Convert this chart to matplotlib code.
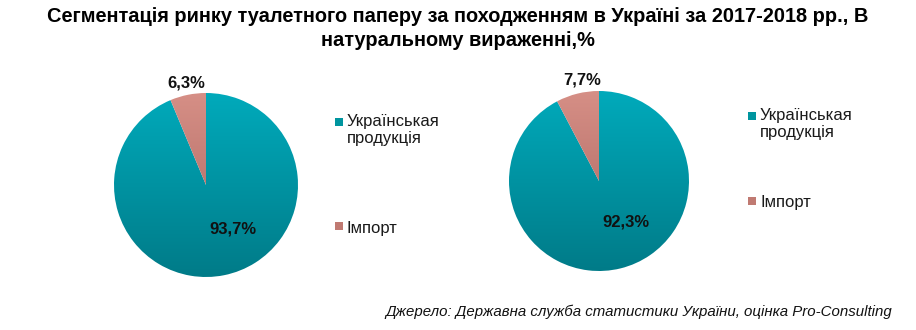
import numpy as np
import matplotlib.pyplot as plt
from matplotlib.colors import LinearSegmentedColormap
from matplotlib.patches import Rectangle

plt.rcParams['font.family'] = ['Liberation Sans', 'DejaVu Sans']

# shares of toilet paper market by origin, natural terms, %
categories = ['Українськая\nпродукція', 'Імпорт']
share_2017 = [93.7, 6.3]
share_2018 = [92.3, 7.7]

title = ('Сегментація ринку туалетного паперу за походженням в Україні за 2017-2018 рр., В\n'
         'натуральному вираженні,%')
source = 'Джерело: Державна служба статистики України, оцінка Pro-Consulting'

# vertical gradients (top colour, bottom colour) for each slice
grads = [('#00aabb', '#007b88'), ('#d68f86', '#a8625c')]
legend_colors = ['#00959f', '#c07a72']

W, H = 916, 330
fig = plt.figure(figsize=(W / 100, H / 100), dpi=100)
fig.patch.set_facecolor('white')


def fmt(v):
    return f'{v:.1f}%'.replace('.', ',')


def draw_pie(cx, cy, r, values, small_pos, big_pos):
    ax = fig.add_axes([(cx - r) / W, 1 - (cy + r) / H, 2 * r / W, 2 * r / H])
    wedges, _ = ax.pie(values, startangle=90, counterclock=False, radius=1,
                       wedgeprops=dict(linewidth=0))
    grad = np.linspace(0, 1, 256).reshape(-1, 1)
    for w, (c_top, c_bot) in zip(wedges, grads):
        cmap = LinearSegmentedColormap.from_list('g', [c_top, c_bot])
        w.set_facecolor('none')
        im = ax.imshow(grad, cmap=cmap, extent=(-1, 1, -1, 1), origin='upper',
                       aspect='auto', zorder=0)
        im.set_clip_path(w)
    ax.set_xlim(-1, 1)
    ax.set_ylim(-1, 1)
    ax.set_aspect('equal')
    ax.axis('off')
    ax.text(*big_pos, fmt(values[0]), ha='center', va='center',
            fontsize=12, fontweight='bold', color='#111111', clip_on=False)
    ax.text(*small_pos, fmt(values[1]), ha='center', va='center',
            fontsize=12, fontweight='bold', color='#111111', clip_on=False)
    return ax


draw_pie(206, 185, 92, share_2017, (-0.21, 1.11), (0.29, -0.48))
draw_pie(599, 181, 90, share_2018, (-0.19, 1.12), (0.30, -0.46))


def draw_legend(x, squares_y, texts_y):
    for label, color, sy, ty in zip(categories, legend_colors, squares_y, texts_y):
        fig.patches.append(Rectangle((x / W, 1 - (sy + 4) / H), 8 / W, 8 / H,
                                     transform=fig.transFigure, facecolor=color,
                                     edgecolor='none'))
        fig.text((x + 12) / W, 1 - ty / H, label, ha='left', va='top',
                 fontsize=12, color='#1a1a1a', linespacing=1.2)


draw_legend(335, (122, 226), (114, 221))
draw_legend(748, (116, 201), (108, 195))

fig.text(0.5, 1 - 7 / H, title, ha='center', va='top', fontsize=14.4,
         fontweight='bold', linespacing=1.3)
fig.text(892 / W, 1 - 312 / H, source, ha='right', va='center', fontsize=10.8,
         style='italic', color='#111111')

fig.savefig('out.png', dpi=100)
